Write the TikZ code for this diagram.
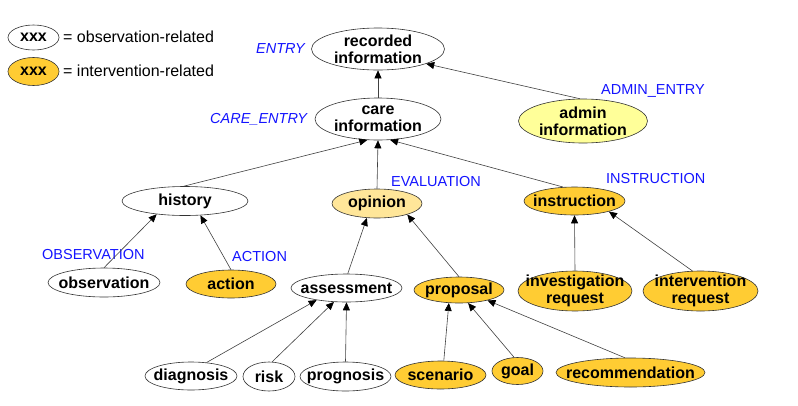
\documentclass[tikz,border=0pt]{standalone}
\usepackage{fontspec}
\setmainfont{Liberation Sans}
\usetikzlibrary{shapes.geometric,arrows.meta}
\definecolor{intvfill}{RGB}{255,204,51}
\definecolor{evalfill}{RGB}{255,230,153}
\definecolor{adminfill}{RGB}{255,255,153}
\definecolor{kindblue}{RGB}{20,20,255}
\begin{document}
\begin{tikzpicture}[
    x=1pt, y=-1pt,
    line join=round, >={Triangle[length=8pt,width=7pt,color=black]},
    concept/.style={ellipse,draw=black!80,line width=0.6pt,
        inner xsep=-20pt,inner ysep=-10pt,align=center,
        font=\fontsize{16}{17}\selectfont\bfseries},
    obs/.style={concept,fill=white},
    intv/.style={concept,fill=intvfill},
    kind/.style={anchor=base west,text=kindblue,inner sep=0pt,
        font=\fontsize{14.5}{16}\selectfont},
    keytext/.style={anchor=west,inner sep=0pt,
        font=\fontsize{16}{18}\selectfont},
    link/.style={->,draw=black!75,line width=0.6pt}
]
    \useasboundingbox (0,0) rectangle (798,405);

    % Legend: plain ellipses are observation-related, orange ones
    % intervention-related.
    \node[obs,minimum width=51,minimum height=25] (keyobs) at (33.5,37.5) {xxx};
    \node[intv,minimum width=51,minimum height=28] (keyintv) at (33.5,71.5) {xxx};
    \node[keytext] (keyobstext) at (63,37) {= observation-related};
    \node[keytext] (keyintvtext) at (63,71) {= intervention-related};

    % Top of the hierarchy.
    \node[obs,minimum width=133,minimum height=42] (rec) at (378,49)
        {recorded\\information};
    \node[obs,minimum width=126,minimum height=42] (care) at (378,119)
        {care\\information};
    \node[concept,fill=adminfill,minimum width=129,minimum height=44]
        (admin) at (583,121) {admin\\information};

    % Second level.
    \node[obs,minimum width=126,minimum height=29] (history) at (185,201) {history};
    \node[concept,fill=evalfill,minimum width=90,minimum height=29]
        (opinion) at (377,203.5) {opinion};
    \node[intv,minimum width=101,minimum height=28] (instruction) at (574.5,201)
        {instruction};

    % Third level.
    \node[obs,minimum width=112,minimum height=29] (observation) at (104,282.5)
        {observation};
    \node[intv,minimum width=90,minimum height=28] (action) at (231,284) {action};
    \node[obs,minimum width=111,minimum height=28] (assessment) at (346.5,288)
        {assessment};
    \node[intv,minimum width=90,minimum height=26] (proposal) at (459,290)
        {proposal};
    \node[intv,minimum width=114,minimum height=40] (investigation) at (575,291)
        {investigation\\request};
    \node[intv,minimum width=115,minimum height=40] (intervention) at (700.5,291)
        {intervention\\request};

    % Leaves.
    \node[obs,minimum width=92,minimum height=28] (diagnosis) at (191,376)
        {diagnosis};
    \node[obs,minimum width=52,minimum height=29] (risk) at (269,376.5) {risk};
    \node[obs,minimum width=91,minimum height=29] (prognosis) at (345.5,376.5)
        {prognosis};
    \node[intv,minimum width=91,minimum height=28] (scenario) at (440.5,375)
        {scenario};
    \node[intv,minimum width=51,minimum height=27] (goal) at (517.5,371) {goal};
    \node[intv,minimum width=149,minimum height=29] (recommendation)
        at (630.5,372.5) {recommendation};

    % Class names.
    \node[kind,font=\fontsize{14.5}{16}\selectfont\itshape] (entrykind)
        at (256,53) {ENTRY};
    \node[kind,font=\fontsize{14.5}{16}\selectfont\itshape] (carekind)
        at (210,123) {CARE\_ENTRY};
    \node[kind] (adminkind) at (601,94) {ADMIN\_ENTRY};
    \node[kind] (evalkind) at (391,186) {EVALUATION};
    \node[kind] (instrkind) at (606,183) {INSTRUCTION};
    \node[kind] (obskind) at (42,259) {OBSERVATION};
    \node[kind] (actkind) at (232,261) {ACTION};

    % Specialisation links, child to parent.
    \draw[link] (care.north) -- (rec.south);
    \draw[link] (admin.98) -- (rec.-17);
    \draw[link] (history.95) -- (care.-117);
    \draw[link] (opinion.north) -- (care.south);
    \draw[link] (instruction.129) -- (care.-60);
    \draw[link] (observation.north) -- (history.-155);
    \draw[link] (action.90) -- (history.-43);
    \draw[link] (assessment.85) -- (opinion.-125);
    \draw[link] (proposal.north) -- (opinion.-20);
    \draw[link] (investigation.north) -- (instruction.south);
    \draw[link] (intervention.112) -- (instruction.-17);
    \draw[link] (diagnosis.41) -- (assessment.-158);
    \draw[link] (risk.78) -- (assessment.-132);
    \draw[link] (prognosis.north) -- (assessment.south);
    \draw[link] (scenario.77) -- (proposal.-128);
    \draw[link] (goal.104) -- (proposal.-55);
    \draw[link] (recommendation.111) -- (proposal.-20);
\end{tikzpicture}
\end{document}
